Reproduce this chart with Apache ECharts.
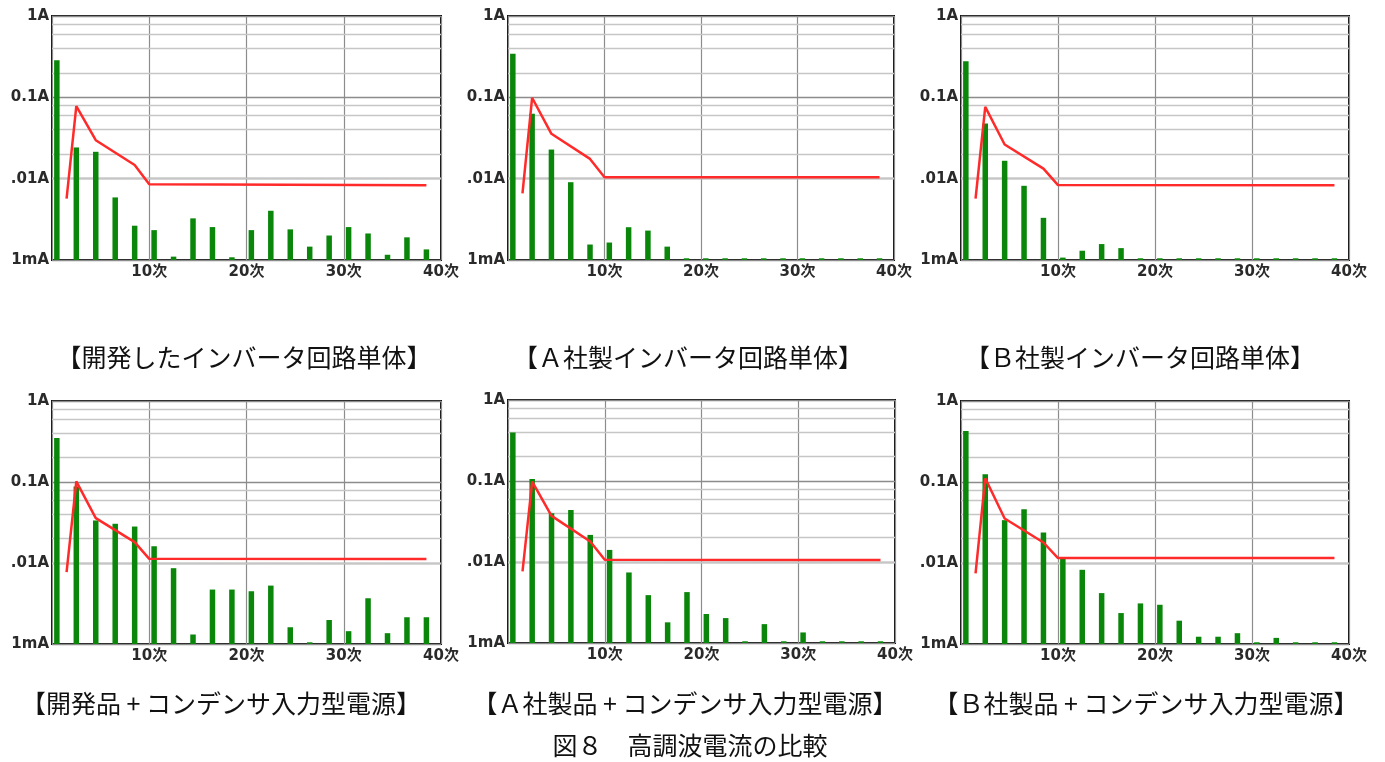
<!DOCTYPE html>
<html>
<head>
<meta charset="utf-8">
<script src="https://cdn.jsdelivr.net/npm/echarts@6/dist/echarts.min.js"></script>
<style>
html,body{margin:0;padding:0;background:#fff;}
#chart{width:1385px;height:762px;}
</style>
</head>
<body>
<div id="chart"></div>
<script>
// ---- data ----
const harmonics = [1,3,5,7,9,11,13,15,17,19,21,23,25,27,29,31,33,35,37,39];

// panel 1: 開発したインバータ回路単体
const dev_alone = [0.286,0.0242,0.0214,0.00588,0.00264,0.00233,0.0011,0.00325,0.00254,0.00108,0.00233,0.00403,0.00238,0.00146,0.0020,0.00254,0.00212,0.00116,0.0019,0.00135];
// panel 2: Ａ社製インバータ回路単体
const a_alone = [0.344,0.0628,0.0228,0.00905,0.00155,0.00164,0.00253,0.0023,0.00146,0.00105,0.00105,0.00105,0.00105,0.00105,0.00105,0.00105,0.00105,0.00105,0.00105,0.00105];
// panel 3: Ｂ社製インバータ回路単体
const b_alone = [0.277,0.0476,0.0166,0.00817,0.0033,0.00107,0.0013,0.00157,0.0014,0.00105,0.00105,0.00105,0.00105,0.00105,0.00105,0.00105,0.00105,0.00105,0.00105,0.00105];
// panel 4: 開発品 + コンデンサ入力型電源
const dev_cap = [0.349,0.088,0.0335,0.0305,0.0282,0.0161,0.00863,0.00131,0.0047,0.0047,0.00448,0.00526,0.00161,0.00105,0.00198,0.00144,0.00367,0.00136,0.00214,0.00214];
// panel 5: Ａ社製品 + コンデンサ入力型電源
const a_cap = [0.396,0.106,0.0401,0.044,0.0216,0.0141,0.00743,0.0039,0.0018,0.00425,0.00228,0.00203,0.00105,0.00171,0.00105,0.00135,0.00105,0.00105,0.00105,0.00105];
// panel 6: Ｂ社製品 + コンデンサ入力型電源
const b_cap = [0.427,0.125,0.0338,0.0462,0.0238,0.0112,0.00824,0.00425,0.00241,0.00317,0.00305,0.00194,0.00123,0.00123,0.00136,0.00105,0.00119,0.00105,0.00105,0.00105];

// limit (red) lines: knots in harmonic order
const limitHarmonics = [2,3,5,9,10.5,39];
const lim_dev_alone = [0.0057,0.078,0.0297,0.0147,0.00855,0.0083];
const lim_a_alone   = [0.0066,0.0988,0.0356,0.0175,0.0104,0.0104];
const lim_b_alone   = [0.0057,0.0763,0.0263,0.0133,0.00833,0.0083];
const lim_dev_cap   = [0.0077,0.1016,0.0358,0.0181,0.01125,0.0112];
const lim_a_cap     = [0.00764,0.0984,0.0371,0.0179,0.01064,0.0106];
const lim_b_cap     = [0.00743,0.111,0.0354,0.0179,0.0115,0.0115];

const captions = [
  '【開発したインバータ回路単体】',
  '【Ａ社製インバータ回路単体】',
  '【Ｂ社製インバータ回路単体】',
  '【開発品 + コンデンサ入力型電源】',
  '【Ａ社製品 + コンデンサ入力型電源】',
  '【Ｂ社製品 + コンデンサ入力型電源】'
];
const figureCaption = '図８　高調波電流の比較';

const yTickValues = [0.001,0.01,0.1,1];
const yTickLabels = ['1mA','.01A','0.1A','1A'];
const xTickValues = [10,20,30,40];
const xTickLabels = ['10次','20次','30次','40次'];
const minorMultipliers = [2,4,6,8];

// ---- layout / styles ----
const panelSeries = [dev_alone,a_alone,b_alone,dev_cap,a_cap,b_cap];
const panelLimits = [lim_dev_alone,lim_a_alone,lim_b_alone,lim_dev_cap,lim_a_cap,lim_b_cap];
const grids = [
  {left:52, top:16, width:389, height:244},
  {left:508,top:16, width:386, height:244},
  {left:961,top:16, width:388, height:244},
  {left:52, top:401,width:389, height:243},
  {left:508,top:400,width:387, height:243},
  {left:961,top:401,width:388, height:243}
];
const captionPos = [[244,357],[688,357],[1140,357],[221,703],[685,703],[1146,703]];
const figCaptionPos = [690,745];

const minorVals = [];
for (let d = -3; d < 0; d++) minorMultipliers.forEach(m => minorVals.push(m * Math.pow(10, d)));

const bandCenter = h => h - 0.5; // harmonic h occupies band [h-1, h]

const labelFont = {fontFamily:'DejaVu Sans, Noto Sans CJK JP', fontSize:15, fontWeight:'bold', color:'#2a2a2a'};
const captionFont = {fontSize:25, fontFamily:'Noto Sans CJK JP', fill:'#111', textAlign:'center', textVerticalAlign:'middle'};

const option = {
  animation:false,
  backgroundColor:'#ffffff',
  grid: grids.map(g => Object.assign({show:true, borderColor:'#111', borderWidth:2, backgroundColor:'#fff', containLabel:false}, g)),
  xAxis: grids.map((g,i) => ({
    type:'value', gridIndex:i, min:0, max:40, interval:10,
    axisLine:{show:false}, axisTick:{show:false},
    splitLine:{show:true, lineStyle:{color:'#8c8c8c', width:1.2}},
    axisLabel:{
      margin:5, ...labelFont,
      formatter: v => { const k = xTickValues.indexOf(v); return k < 0 ? '' : xTickLabels[k]; }
    }
  })),
  yAxis: grids.map((g,i) => ({
    type:'log', logBase:10, gridIndex:i, min:0.001, max:1, startValue:0.001,
    axisLine:{show:false}, axisTick:{show:false},
    splitLine:{show:true, lineStyle:{color:'#8c8c8c', width:1.3}},
    axisLabel:{
      margin:3, ...labelFont,
      formatter: v => { const k = yTickValues.findIndex(t => Math.abs(Math.log10(t) - Math.log10(v)) < 1e-6); return k < 0 ? '' : yTickLabels[k]; }
    }
  })),
  series: [],
  graphic: []
};

panelSeries.forEach((vals, i) => {
  option.series.push({
    type:'bar', xAxisIndex:i, yAxisIndex:i, barWidth:5.5,
    itemStyle:{color:'#0a870a'},
    data: harmonics.map((h,k) => [bandCenter(h), vals[k]]),
    markLine:{
      silent:true, symbol:'none', z:1, animation:false,
      label:{show:false},
      lineStyle:{color:'#c6c6c6', width:1.4, type:'solid'},
      data: minorVals.map(v => ({yAxis:v}))
    },
    z:3
  });
  option.series.push({
    type:'line', xAxisIndex:i, yAxisIndex:i, symbol:'none',
    lineStyle:{color:'#ff2b2b', width:2.5},
    data: limitHarmonics.map((h,k) => [bandCenter(h), panelLimits[i][k]]),
    z:4
  });
  option.graphic.push({
    type:'text', x:captionPos[i][0], y:captionPos[i][1],
    style:Object.assign({text:captions[i]}, captionFont)
  });
});
option.graphic.push({
  type:'text', x:figCaptionPos[0], y:figCaptionPos[1],
  style:Object.assign({text:figureCaption}, captionFont)
});

const chart = echarts.init(document.getElementById('chart'), null, {renderer:'canvas'});
chart.setOption(option);
</script>
</body>
</html>
